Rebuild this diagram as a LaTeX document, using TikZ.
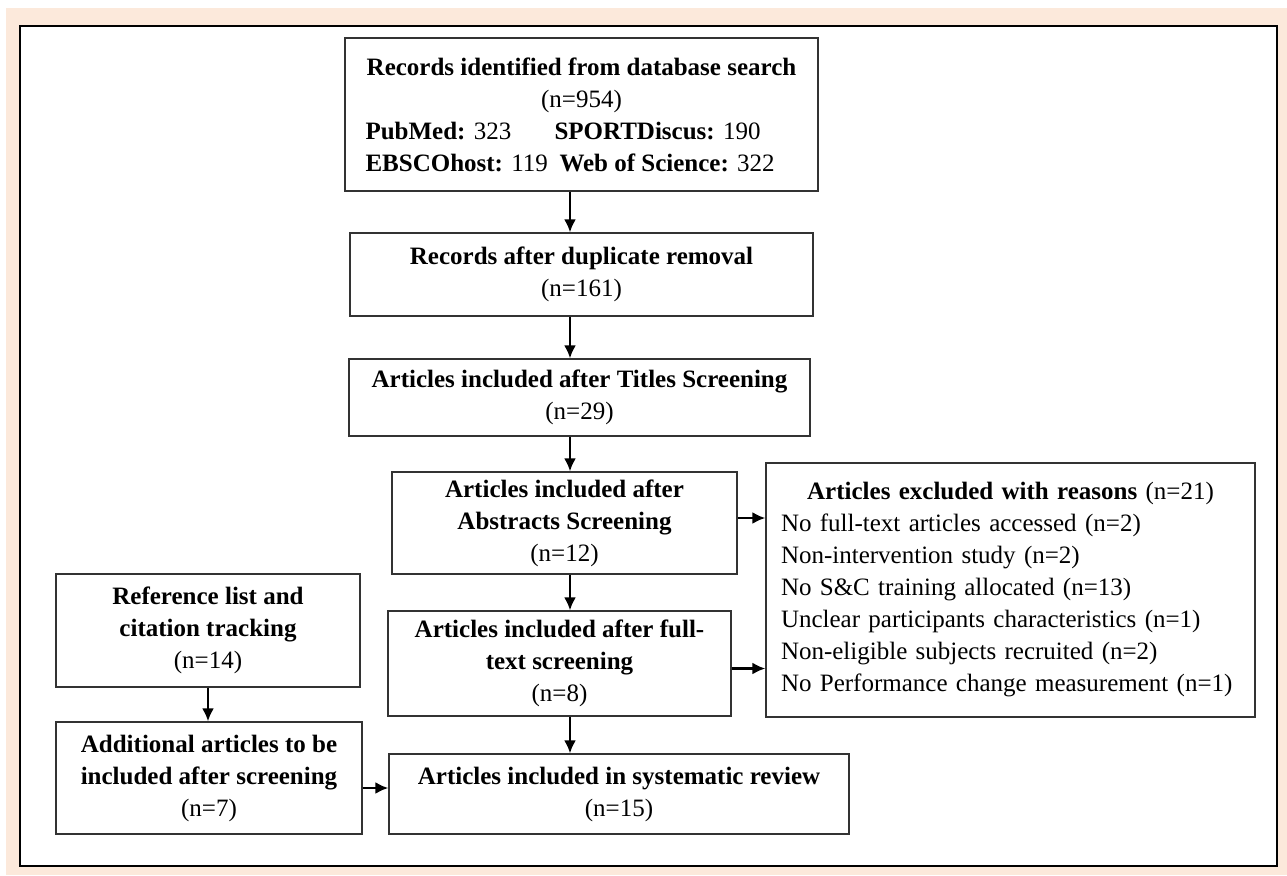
\documentclass[tikz,border=0pt]{standalone}
\usepackage{fontspec}
\setmainfont{Liberation Serif}
\usetikzlibrary{arrows.meta,
                positioning}
\definecolor{peach}{RGB}{252,233,219}

\begin{document}
\begin{tikzpicture}[x=0.5pt, y=-0.5pt,
    >={Latex[length=6.5pt,width=6pt]},
    box/.style={draw=black!80, line width=0.6pt, inner sep=0pt, align=center,
                font=\fontsize{12.5}{16}\selectfont},
    arrow/.style={->, line width=1.4pt}]
    \useasboundingbox (0,0) rectangle (1287,875);
    \fill[peach] (6,8) rectangle (1287,875);
    \draw[fill=white, line width=1pt] (20,26) rectangle (1277,866);

    \coordinate (spine) at (570,0);

    \node[box, minimum width=236.5pt, minimum height=76.5pt] (ident) at (581.5,114.5)
        {\textbf{Records identified from database search}\\
         (n=954)\\
         \makebox[216pt][l]{\makebox[94.5pt][l]{\textbf{PubMed:} 323}\textbf{SPORTDiscus:} 190}\\
         \makebox[216pt][l]{\makebox[97pt][l]{\textbf{EBSCOhost:} 119}\textbf{Web of Science:} 322}};
    \node[box, minimum width=231.5pt, minimum height=41.5pt] (dupl) at (581.5,274.5)
        {\textbf{Records after duplicate removal}\\ (n=161)};
    \node[box, minimum width=230.5pt, minimum height=38.5pt] (titles) at (579.5,397.5)
        {\textbf{Articles included after Titles Screening}\\ (n=29)};
    \node[box, minimum width=172.5pt, minimum height=51pt] (abstr) at (564.5,523)
        {\textbf{Articles included after}\\ \textbf{Abstracts Screening}\\ (n=12)};
    \node[box, minimum width=171.5pt, minimum height=52.5pt] (fulltext) at (559.5,663.5)
        {\textbf{Articles included after full-}\\ \textbf{text screening}\\ (n=8)};
    \node[box, minimum width=230pt, minimum height=40pt] (review) at (619,794)
        {\textbf{Articles included in systematic review}\\ (n=15)};
    \node[box, minimum width=244.5pt, minimum height=127pt, align=left, text width=229.5pt] (excl) at (1010.5,590)
        {\makebox[229.5pt]{\textbf{Articles excluded with reasons} (n=21)}\\
         No full-text articles accessed (n=2)\\
         Non-intervention study (n=2)\\
         No S\&C training allocated (n=13)\\
         Unclear participants characteristics (n=1)\\
         Non-eligible subjects recruited (n=2)\\
         No Performance change measurement (n=1)\par\vspace{10pt}};
    \node[box, minimum width=152pt, minimum height=56.5pt] (reflist) at (208,630.5)
        {\textbf{Reference list and}\\ \textbf{citation tracking}\\ (n=14)};
    \node[box, minimum width=153pt, minimum height=56pt] (extra) at (209,778)
        {\textbf{Additional articles to be}\\ \textbf{included after screening}\\ (n=7)};

    \draw[arrow] (ident.south -| spine) -- (dupl.north -| spine);
    \draw[arrow] (dupl.south -| spine) -- (titles.north -| spine);
    \draw[arrow] (titles.south -| spine) -- (abstr.north -| spine);
    \draw[arrow] (abstr.south -| spine) -- (fulltext.north -| spine);
    \draw[arrow] (fulltext.south -| spine) -- (review.north -| spine);
    \draw[arrow] ([yshift=2.5pt]abstr.east) -- ([yshift=2.5pt]abstr.east -| excl.west);
    \draw[arrow] ([yshift=-2.5pt]fulltext.east) -- ([yshift=-2.5pt]fulltext.east -| excl.west);
    \draw[arrow] (reflist.south) -- (reflist.south |- extra.north);
    \draw[arrow] ([yshift=-5pt]extra.east) -- ([yshift=-5pt]extra.east -| review.west);

\end{tikzpicture}
\end{document}
